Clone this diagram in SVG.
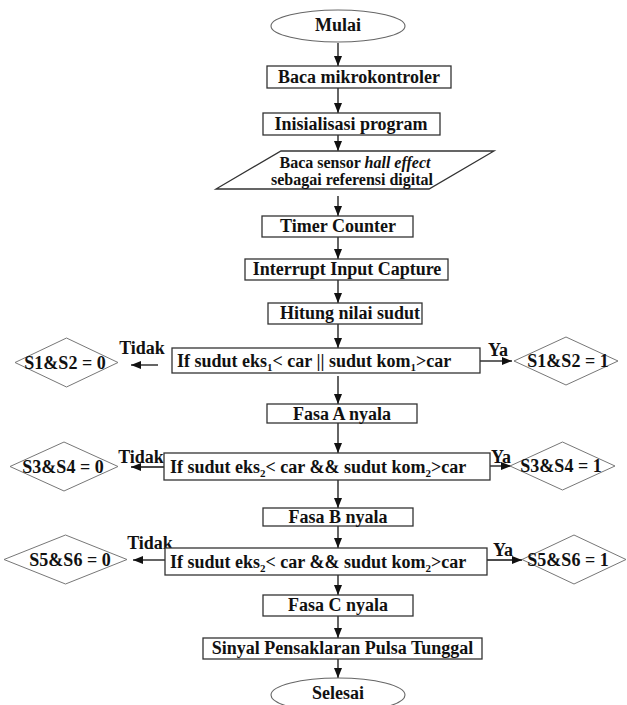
<svg xmlns="http://www.w3.org/2000/svg" width="627" height="705" viewBox="0 0 627 705">
<defs>
<marker id="ah" markerUnits="userSpaceOnUse" markerWidth="10" markerHeight="8" refX="10" refY="4" orient="auto">
<path d="M0,0 L10,4 L0,8 z" fill="#111"/>
</marker>
<style>
.box{fill:#fff;stroke:#333;stroke-width:1.3}
.ell{fill:#fff;stroke:#666;stroke-width:1.1}
.dia{fill:#fff;stroke:#777;stroke-width:1}
.t{font-family:"Liberation Serif","Times New Roman",serif;font-weight:bold;font-size:18px;fill:#111;text-anchor:middle}
.ts{text-anchor:start}
.sm{font-size:16px}
.sub{font-size:11px}
.e{stroke:#111;stroke-width:1.3;fill:none;marker-end:url(#ah)}
</style>
</defs>
<rect width="627" height="705" fill="#fff"/>
<g id="connectors">
<line class="e" x1="338" y1="43" x2="338" y2="66"/>
<line class="e" x1="338" y1="88" x2="338" y2="113"/>
<line class="e" x1="338" y1="135" x2="338" y2="151"/>
<line class="e" x1="338" y1="196" x2="338" y2="216"/>
<line class="e" x1="338" y1="237" x2="338" y2="259"/>
<line class="e" x1="338" y1="280" x2="338" y2="303"/>
<line class="e" x1="338" y1="324" x2="338" y2="348"/>
<line class="e" x1="338" y1="376" x2="338" y2="404"/>
<line class="e" x1="338" y1="423" x2="338" y2="453"/>
<line class="e" x1="338" y1="480" x2="338" y2="508"/>
<line class="e" x1="338" y1="526" x2="338" y2="548"/>
<line class="e" x1="338" y1="575" x2="338" y2="595"/>
<line class="e" x1="338" y1="616" x2="338" y2="638"/>
<line class="e" x1="338" y1="659" x2="338" y2="678"/>
<line class="e" x1="158" y1="365" x2="131" y2="365"/>
<line class="e" x1="480" y1="361" x2="512" y2="361"/>
<line class="e" x1="164" y1="467" x2="131" y2="467"/>
<line class="e" x1="490" y1="466" x2="511" y2="466"/>
<line class="e" x1="165" y1="560" x2="133" y2="560"/>
<line class="e" x1="487" y1="560" x2="522" y2="560"/>
<text class="t" x="142" y="354">Tidak</text>
<text class="t" x="498" y="356">Ya</text>
<text class="t" x="141" y="463">Tidak</text>
<text class="t" x="501" y="463">Ya</text>
<text class="t" x="150" y="549">Tidak</text>
<text class="t" x="503" y="556">Ya</text>
</g>
<g id="mulai">
<ellipse class="ell" cx="338" cy="26" rx="67" ry="16"/>
<text class="t" x="338" y="31">Mulai</text>
</g>
<g id="baca-mikro">
<rect class="box" x="267" y="66" width="184" height="22"/>
<text class="t" x="359" y="83">Baca mikrokontroler</text>
</g>
<g id="inisialisasi">
<rect class="box" x="263" y="113" width="177" height="22"/>
<text class="t" x="351" y="130">Inisialisasi program</text>
</g>
<g id="baca-sensor">
<polygon class="box" points="281,151 494,151 429,189 216,189"/>
<text class="t sm" x="355" y="168">Baca sensor <tspan font-style="italic">hall effect</tspan></text>
<text class="t sm" x="352" y="185">sebagai referensi digital</text>
</g>
<g id="timer">
<rect class="box" x="262" y="216" width="151" height="21"/>
<text class="t" x="338" y="232">Timer Counter</text>
</g>
<g id="interrupt">
<rect class="box" x="245" y="259" width="203" height="21"/>
<text class="t" x="347" y="275">Interrupt Input Capture</text>
</g>
<g id="hitung">
<rect class="box" x="268" y="303" width="154" height="21"/>
<text class="t" x="350" y="319">Hitung nilai sudut</text>
</g>
<g id="if1">
<rect class="box" x="172" y="348" width="308" height="25"/>
<text class="t ts" x="177" y="367">If sudut eks<tspan class="sub" dy="4">1</tspan><tspan dy="-4">&lt; car || sudut kom</tspan><tspan class="sub" dy="4">1</tspan><tspan dy="-4">&gt;car</tspan></text>
</g>
<g id="s12-0">
<polygon class="dia" points="15,362.5 66.5,338 118,362.5 66.5,387"/>
<text class="t" x="65" y="369">S1&amp;S2 = 0</text>
</g>
<g id="s12-1">
<polygon class="dia" points="514,361 566,337 618,361 566,385"/>
<text class="t" x="568" y="367">S1&amp;S2 = 1</text>
</g>
<g id="fasa-a">
<rect class="box" x="267" y="404" width="150" height="19"/>
<text class="t" x="342" y="420">Fasa A nyala</text>
</g>
<g id="if2">
<rect class="box" x="164" y="453" width="326" height="27"/>
<text class="t ts" x="170" y="473">If sudut eks<tspan class="sub" dy="4">2</tspan><tspan dy="-4">&lt; car &amp;&amp; sudut kom</tspan><tspan class="sub" dy="4">2</tspan><tspan dy="-4">&gt;car</tspan></text>
</g>
<g id="s34-0">
<polygon class="dia" points="10,466.5 64,442 118,466.5 64,491"/>
<text class="t" x="63" y="473">S3&amp;S4 = 0</text>
</g>
<g id="s34-1">
<polygon class="dia" points="510,466 562.5,442 615,466 562.5,490"/>
<text class="t" x="561" y="472">S3&amp;S4 = 1</text>
</g>
<g id="fasa-b">
<rect class="box" x="263" y="508" width="150" height="18"/>
<text class="t" x="338" y="523">Fasa B nyala</text>
</g>
<g id="if3">
<rect class="box" x="165" y="548" width="322" height="27"/>
<text class="t ts" x="170" y="568">If sudut eks<tspan class="sub" dy="4">2</tspan><tspan dy="-4">&lt; car &amp;&amp; sudut kom</tspan><tspan class="sub" dy="4">2</tspan><tspan dy="-4">&gt;car</tspan></text>
</g>
<g id="s56-0">
<polygon class="dia" points="4,559.5 65.5,535 127,559.5 65.5,584"/>
<text class="t" x="70" y="566">S5&amp;S6 = 0</text>
</g>
<g id="s56-1">
<polygon class="dia" points="522,559.5 574,535 626,559.5 574,584"/>
<text class="t" x="568" y="566">S5&amp;S6 = 1</text>
</g>
<g id="fasa-c">
<rect class="box" x="263" y="595" width="150" height="21"/>
<text class="t" x="338" y="611">Fasa C nyala</text>
</g>
<g id="sinyal">
<rect class="box" x="203" y="638" width="279" height="21"/>
<text class="t" x="342.5" y="654">Sinyal Pensaklaran Pulsa Tunggal</text>
</g>
<g id="selesai">
<ellipse class="ell" cx="338" cy="695" rx="67" ry="17"/>
<text class="t" x="338" y="699">Selesai</text>
</g>
</svg>
